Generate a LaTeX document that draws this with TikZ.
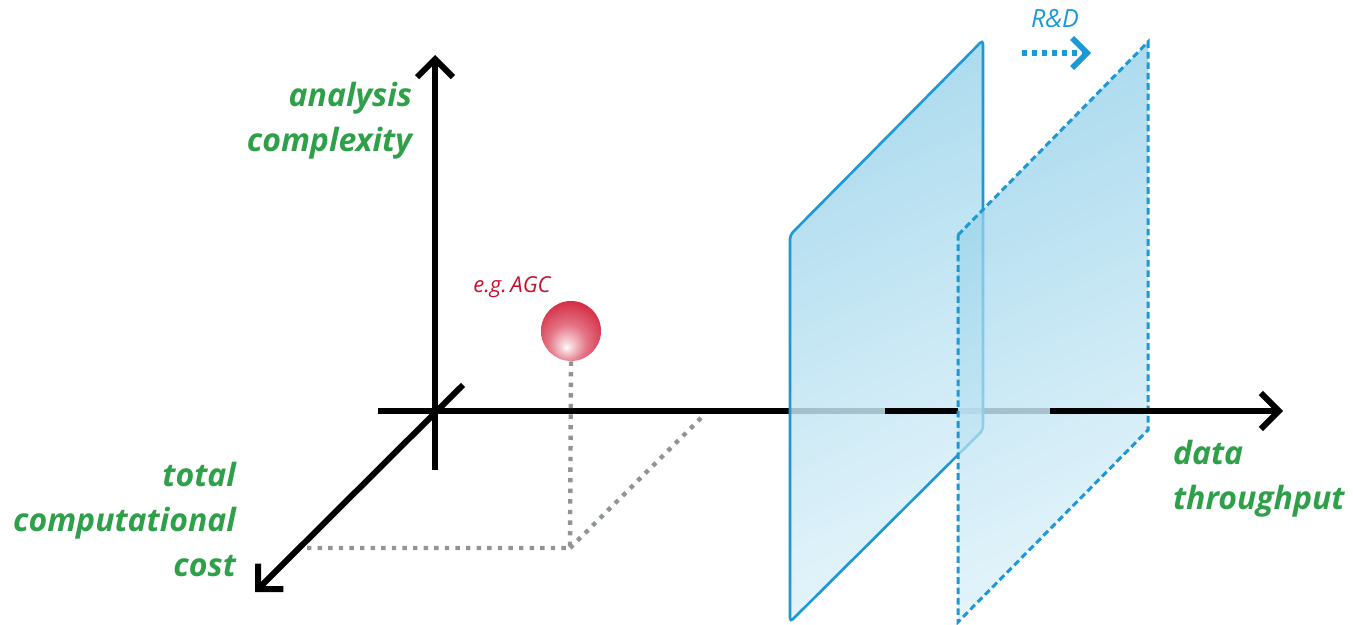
\documentclass[tikz,border=0pt]{standalone}
\usepackage{fontspec}
\setmainfont{Open Sans}
\usetikzlibrary{arrows.meta}
\definecolor{lblgreen}{HTML}{2FA04A}
\definecolor{planeblue}{HTML}{1B98D5}
\definecolor{agcred}{HTML}{C8102E}
\definecolor{guidegray}{HTML}{8F968F}
\definecolor{planeTop}{RGB}{140,205,232}
\definecolor{planeBot}{RGB}{218,240,249}
\definecolor{hiddenaxis}{RGB}{105,105,105}
\definecolor{sphA}{RGB}{246,212,218}
\definecolor{sphB}{RGB}{228,115,132}
\definecolor{sphC}{RGB}{210,35,60}
\definecolor{sphD}{RGB}{190,0,22}
\pgfdeclareradialshading{sphereshade}{\pgfpoint{-4bp}{-14bp}}{color(0bp)=(white); color(4bp)=(sphA); color(16bp)=(sphB); color(34bp)=(sphC); color(62bp)=(sphD)}
\tikzset{
  axisline/.style={line width=3pt, black},
  axisarrow/.style={axisline, -{Straight Barb[length=9pt, width=18pt]}},
  hiddenline/.style={line width=3pt, hiddenaxis},
  guide/.style={line width=2.2pt, guidegray, dash pattern=on 2.2pt off 3.1pt},
  plane/.style={top color=planeTop, bottom color=planeBot, shading angle=25, fill opacity=0.72},
  planeedge/.style={planeblue, line width=1.3pt, rounded corners=2pt},
  lbl/.style={text=lblgreen, font=\fontsize{16pt}{22.5pt}\selectfont\bfseries\itshape},
  ball/.style={circle, minimum size=30pt, inner sep=0pt, shading=sphereshade},
}
\begin{document}
\begin{tikzpicture}[x=0.5pt, y=-0.5pt]
\useasboundingbox (0,0) rectangle (1353,625);
% axes coordinates
\coordinate (vbot) at (435,470);
\coordinate (vtop) at (435,55);
\coordinate (hleft) at (378,411);
\coordinate (hright) at (1283,411);
\coordinate (dstart) at (463,385);
\coordinate (dend) at (255,592);
\coordinate (h0) at (790,411);
\coordinate (hA) at (885,411);
\coordinate (hB) at (958,411);
\coordinate (hC) at (1050,411);
% guide coordinates
\coordinate (pbase) at (570,548);
\coordinate (pleft) at (303,548);
\coordinate (pright) at (702,417);
% axes
\draw[axisarrow] (vbot) -- (vtop);
\draw[axisline] (hleft) -- (h0);
\draw[hiddenline] (h0) -- (hA);
\draw[hiddenline] (hB) -- (hC);
\draw[axisarrow] (dstart) -- (dend);
% sphere
\node[ball] (agc) at (571,331) {};
\node[text=agcred, font=\fontsize{11pt}{13pt}\selectfont\itshape] (agclbl) at (512,287) {e.g.\,AGC};
% guides
\draw[guide] (agc.south) -- (pbase) -- (pleft);
\draw[guide] (pbase) -- (pright);
% plane 1
\coordinate (p1a) at (790,235);
\coordinate (p1b) at (983,40);
\coordinate (p1c) at (983,430);
\coordinate (p1d) at (790,622);
\shade[plane, rounded corners=2pt] (p1a) -- (p1b) -- (p1c) -- (p1d) -- cycle;
\draw[planeedge] (p1a) -- (p1b) -- (p1c) -- (p1d) -- cycle;
\draw[axisline] (hA) -- (hB);
% plane 2
\coordinate (p2a) at (958,235);
\coordinate (p2b) at (1148,42);
\coordinate (p2c) at (1148,430);
\coordinate (p2d) at (958,622);
\shade[plane] (p2a) -- (p2b) -- (p2c) -- (p2d) -- cycle;
\draw[planeblue, line width=1.5pt, dash pattern=on 3.3pt off 1.9pt] (p2a) -- (p2b) -- (p2c) -- (p2d) -- cycle;
\draw[axisarrow] (hC) -- (hright);
% R&D arrow
\coordinate (rdA) at (1022,53);
\coordinate (rdB) at (1091,53);
\draw[planeblue, line width=2.8pt, dash pattern=on 2.5pt off 2.5pt, -{Straight Barb[length=7.5pt, width=15pt]}] (rdA) -- (rdB);
\node[text=planeblue, font=\fontsize{12.5pt}{14pt}\selectfont\itshape] (rdlbl) at (1055,19) {R\&D};
% labels
\node[lbl, align=right, anchor=east] (ylbl) at (419,121) {analysis\\complexity};
\node[lbl, align=right, anchor=east] (zlbl) at (243,519) {total\\computational\\cost};
\node[lbl, align=left, anchor=west] (xlbl) at (1166,479) {data\\throughput};
\end{tikzpicture}
\end{document}
